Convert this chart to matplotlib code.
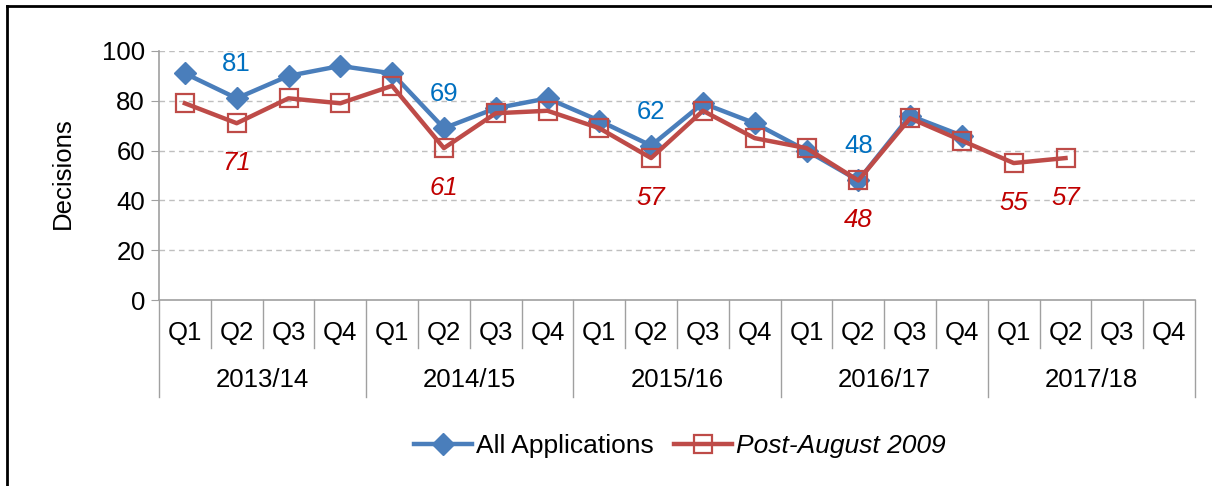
import matplotlib
matplotlib.use("Agg")
import matplotlib.pyplot as plt
from matplotlib.lines import Line2D
import numpy as np

plt.rcParams['font.family'] = ['Liberation Sans', 'DejaVu Sans']

years = ["2013/14", "2014/15", "2015/16", "2016/17", "2017/18"]
quarters = ["Q1", "Q2", "Q3", "Q4"]
all_apps = [91, 81, 90, 94, 91, 69, 77, 81, 72, 62, 79, 71, 60, 48, 74, 66]
post_aug = [79, 71, 81, 79, 86, 61, 75, 76, 69, 57, 76, 65, 61, 48, 73, 64, 55, 57]
blue_labels = {1: "81", 5: "69", 9: "62", 13: "48"}
red_labels = {1: "71", 5: "61", 9: "57", 13: "48", 16: "55", 17: "57"}

FS = 18.5
W, H = 1212, 486
fig = plt.figure(figsize=(W / 100, H / 100), dpi=100)
ax = fig.add_axes([159 / W, 1 - 300 / H, (1195 - 159) / W, (300 - 51) / H])

n = len(years) * len(quarters)
x_all = np.arange(len(all_apps))
x_post = np.arange(len(post_aug))

blue = "#4A7EBB"
red = "#BE4B48"
ax.plot(x_all, all_apps, color=blue, lw=3.2, marker="D", ms=11, mfc=blue, mec=blue,
        label="All Applications", zorder=3)
ax.plot(x_post, post_aug, color=red, lw=3.2, marker="s", ms=13.5, mfc="none", mec=red,
        mew=1.6, label="Post-August 2009", zorder=4)

for i, t in blue_labels.items():
    ax.annotate(t, (i, all_apps[i]), xytext=(0, 34), textcoords="offset pixels",
                ha="center", va="center", color="#0070C0", fontsize=FS)
for i, t in red_labels.items():
    ax.annotate(t, (i, post_aug[i]), xytext=(0, -40), textcoords="offset pixels",
                ha="center", va="center", color="#C00000", fontsize=FS, style="italic")

ax.set_xlim(-0.5, n - 0.5)
ax.set_ylim(0, 100)
ax.set_yticks([0, 20, 40, 60, 80, 100])
ax.tick_params(axis="y", labelsize=FS, length=6, color="#A0A0A0", pad=4)
ax.set_xticks([])
for y in [20, 40, 60, 80, 100]:
    ax.axhline(y, color="#BFBFBF", lw=1, ls=(0, (4, 3)), zorder=1)
for s in ["top", "right"]:
    ax.spines[s].set_visible(False)
ax.spines["left"].set_color("#A0A0A0")
ax.spines["bottom"].set_color("#A0A0A0")
ax.spines["left"].set_linewidth(1.2)
ax.spines["bottom"].set_linewidth(1.2)

ax.set_ylabel("Decisions", fontsize=FS, va="center")
ax.yaxis.set_label_coords((63 - 159) / (1195 - 159), (300 - 173.5) / 249)

# multi-level category axis
trans = ax.get_xaxis_transform()
ax_h = 300 - 51
def yax(py):
    return (300 - py) / ax_h

for k in range(n + 1):
    xs = k - 0.5
    is_year = (k % 4 == 0)
    y_end = 397 if is_year else 348
    ax.add_line(Line2D([xs, xs], [0, yax(y_end)], transform=trans, color="#A0A0A0",
                       lw=1, clip_on=False))
for k in range(n):
    ax.text(k, yax(333), quarters[k % 4], transform=trans, ha="center", va="center",
            fontsize=FS)
for j, yr in enumerate(years):
    ax.text(j * 4 + 1.5, yax(380), yr, transform=trans, ha="center", va="center",
            fontsize=FS)

leg = fig.legend(loc="center", bbox_to_anchor=(680 / W, 1 - 446 / H), ncol=2,
                 frameon=False, fontsize=19, handlelength=2.2, handletextpad=0.15,
                 columnspacing=0.75)
for txt in leg.get_texts():
    if txt.get_text().startswith("Post"):
        txt.set_style("italic")

# outer frame (top and left visible)
fig.add_artist(Line2D([7 / W, 7 / W], [0, 1 - 6 / H], transform=fig.transFigure,
                      color="black", lw=2))
fig.add_artist(Line2D([7 / W, 1], [1 - 6 / H, 1 - 6 / H], transform=fig.transFigure,
                      color="black", lw=2))

fig.savefig("out.png", dpi=100)
